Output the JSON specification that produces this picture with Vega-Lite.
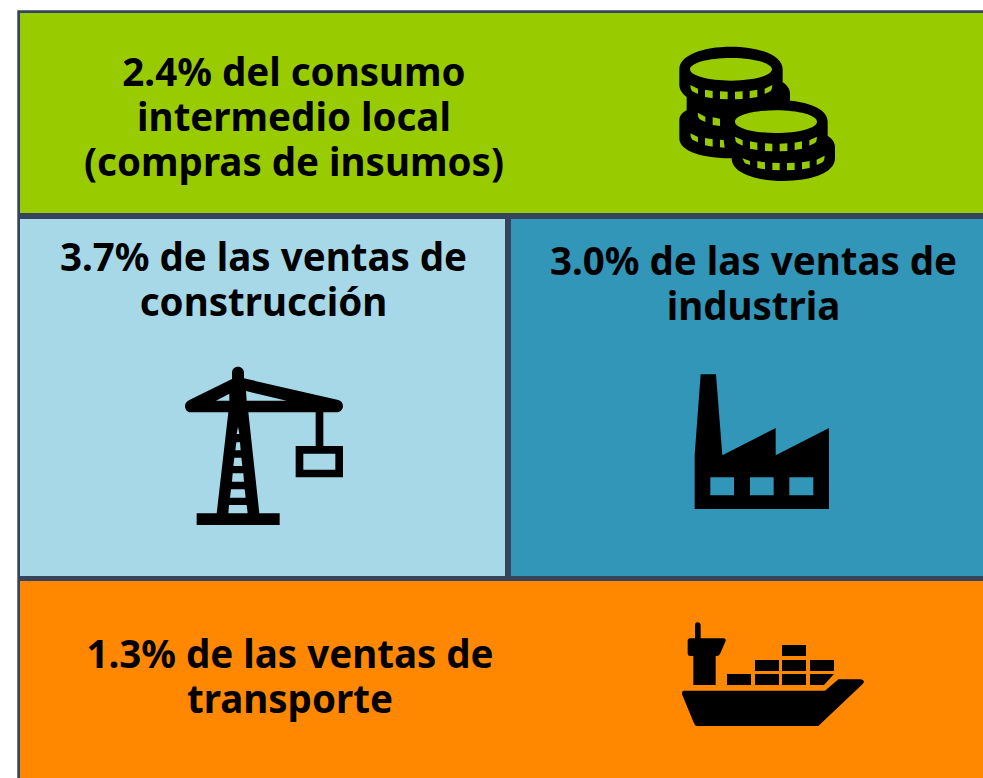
{
"$schema":"https://vega.github.io/schema/vega-lite/v6.json",
"width":983,"height":778,"padding":0,
"autosize":{"type":"fit","contains":"padding"},
"background":"#ffffff",
"view":{"stroke":null},
"datasets":{
"panels":[
{"panel":"marco","x0":17.3,"x1":983,"y0":10.3,"y1":778},
{"panel":"consumo","x0":20,"x1":983,"y0":13,"y1":213},
{"panel":"construccion","x0":20,"x1":505,"y0":219,"y1":576},
{"panel":"industria","x0":511,"x1":983,"y0":219,"y1":576},
{"panel":"transporte","x0":20,"x1":983,"y0":581,"y1":778}
],
"labels":[
{"line":"2.4% del consumo\nintermedio local\n(compras de insumos)","cx":294,"cy":74},
{"line":"3.7% de las ventas de\nconstrucción","cx":263.5,"cy":259},
{"line":"3.0% de las ventas de\nindustria","cx":753.5,"cy":263},
{"line":"1.3% de las ventas de\ntransporte","cx":290,"cy":656}
],
"icons":[
{"panel":"consumo","icon":"monedas","ax":660,"ay":30},
{"panel":"construccion","icon":"grua","ax":170,"ay":355},
{"panel":"industria","icon":"fabrica","ax":680,"ay":365},
{"panel":"transporte","icon":"barco","ax":670,"ay":615}
]
},
"resolve":{"scale":{"shape":"independent"}},
"layer":[
{"data":{"name":"panels"},
"mark":{"type":"rect","strokeWidth":0},
"encoding":{
"x":{"field":"x0","type":"quantitative","scale":{"domain":[0,983],"nice":false,"zero":false},"axis":null},
"x2":{"field":"x1"},
"y":{"field":"y0","type":"quantitative","scale":{"domain":[778,0],"nice":false,"zero":false},"axis":null},
"y2":{"field":"y1"},
"fill":{"field":"panel","type":"nominal","legend":null,"scale":{"domain":["marco","consumo","construccion","industria","transporte"],"range":["#35445c","#99cc00","#a6d8e8","#3296b9","#ff8800"]}}
}},
{"data":{"name":"labels"},
"mark":{"type":"text","font":"Noto Sans","fontWeight":"bold","fontSize":38.5,"lineBreak":"\n","lineHeight":45,"align":"center","baseline":"middle","color":"#000000"},
"encoding":{
"x":{"field":"cx","type":"quantitative","scale":{"domain":[0,983],"nice":false,"zero":false},"axis":null},
"y":{"field":"cy","type":"quantitative","scale":{"domain":[778,0],"nice":false,"zero":false},"axis":null},
"text":{"field":"line","type":"nominal"}
}},
{"data":{"name":"icons"},
"mark":{"type":"point","filled":true,"size":0.4444444,"opacity":1,"strokeWidth":0,"fill":"#000000"},
"encoding":{
"x":{"field":"ax","type":"quantitative","scale":{"domain":[0,983],"nice":false,"zero":false},"axis":null},
"y":{"field":"ay","type":"quantitative","scale":{"domain":[778,0],"nice":false,"zero":false},"axis":null},
"shape":{"field":"icon","type":"nominal","legend":null,"scale":{"domain":["monedas","grua","fabrica","barco"],"range":[
"M58 118C58 75 130 50 213 50C296 50 368 75 368 118L368 165C368 205 296 235 213 235C130 235 58 205 58 165ZM80 190C80 150 150 130 235 130C320 130 390 150 390 190L390 260C390 300 320 320 235 320C150 320 80 300 80 260ZM58 270C58 235 130 215 213 215C296 215 368 235 368 270L368 325C368 365 296 385 213 385C130 385 58 365 58 325ZM193 275C193 232 265 210 348 210C431 210 503 232 503 275L503 340C503 380 431 400 348 400C265 400 193 380 193 340ZM215 350C215 310 290 290 370 290C450 290 525 310 525 350L525 385C525 430 450 453 370 453C290 453 215 430 215 385Z",
"M186 72L186 53C186 42 194 35 204 35C214 35 222 42 222 53L222 70L505 135C514 138 519 145 519 153C519 164 510 172 500 172L460 172L460 273L519 273L519 367L377 367L377 273L437 273L437 172L235 172L268 475L329 475L329 510L80 510L80 475L140 475L175 172L62 172C52 172 45 164 45 153C45 146 50 139 58 135Z",
"M62 28L108 28L127 271L287 189L287 271L447 189L447 432L44 432L44 270Z",
"M83 22C88 22 92 26 92 31L92 70L160 70C166 70 169 74 166 80L150 117C148 121 145 123 140 123L137 123L137 210L70 210L70 123L60 123C56 123 53 120 53 115L53 78C53 73 56 70 60 70L75 70L75 31C75 26 78 22 83 22ZM171 177L243 177L243 210L171 210ZM255 177L327 177L327 210L255 210ZM336 177L408 177L408 210L336 210ZM420 177L492 177L462 210L420 210ZM255 135L327 135L327 168L255 168ZM336 135L408 135L408 168L336 168ZM420 135L492 135L492 168L420 168ZM336 90L408 90L408 123L336 123ZM42 227L465 227L505 193L572 193C582 195 585 201 578 207L445 333L82 333C76 333 74 330 72 325L36 238C35 232 37 228 42 227Z"
]}}
}},
{"data":{"name":"icons"},
"mark":{"type":"point","filled":true,"size":0.4444444,"opacity":1,"strokeWidth":0},
"encoding":{
"x":{"field":"ax","type":"quantitative","scale":{"domain":[0,983],"nice":false,"zero":false},"axis":null},
"y":{"field":"ay","type":"quantitative","scale":{"domain":[778,0],"nice":false,"zero":false},"axis":null},
"fill":{"field":"panel","type":"nominal","legend":null,"scale":{"domain":["marco","consumo","construccion","industria","transporte"],"range":["#35445c","#99cc00","#a6d8e8","#3296b9","#ff8800"]}},
"shape":{"field":"icon","type":"nominal","legend":null,"scale":{"domain":["monedas","grua","fabrica","barco"],"range":[
"M90 118C90 99 145 84 213 84C281 84 336 99 336 118C336 137 281 152 213 152C145 152 90 137 90 118ZM225 275C225 256 280 241 348 241C416 241 471 256 471 275C471 294 416 309 348 309C280 309 225 294 225 275ZM91 165L114 176L114 192L97 184Q91 178 91 165ZM135 179L158 183L158 205L135 201ZM180 184L203 185L203 208L180 207ZM225 185L248 184L248 207L225 208ZM269 183L292 179L292 201L269 205ZM314 176L337 165Q337 178 331 184L314 192ZM113 248L136 260L136 276L119 268Q113 262 113 248ZM158 262L180 266L180 288L158 285ZM91 310L114 321L114 337L97 329Q91 323 91 310ZM135 324L158 328L158 350L135 346ZM180 329L191 330L194 353L180 352ZM225 320L248 331L248 347L231 339Q225 333 225 320ZM270 334L292 338L292 360L270 356ZM315 340L337 341L337 364L315 363ZM359 341L382 340L382 363L359 364ZM404 338L426 334L426 356L404 360ZM448 331L471 320Q471 333 465 339L448 347ZM247 385L270 393L270 405L255 400ZM292 393L315 397L315 418L292 414ZM337 398L359 399L359 421L337 420ZM381 399L404 398L404 420L381 421ZM426 397L449 393L449 414L426 418ZM470 389L494 377Q494 391 488 397L470 405Z",
"M178 116L178 137L138 137ZM228 108L350 137L230 137ZM204 215L208 237L200 237ZM199 262L210 262L212 286L196 286ZM193 308L214 308L217 333L190 333ZM188 355L220 355L222 380L186 380ZM183 403L224 403L227 428L180 428ZM177 450L230 450L233 475L175 475ZM400 296L496 296L496 344L400 344Z",
"M91 337L162 337L162 391L91 391ZM210 337L281 337L281 391L210 391ZM328 337L400 337L400 391L328 391Z",
"M0 0L0 0L0 0Z"
]}}
}}
]
}
